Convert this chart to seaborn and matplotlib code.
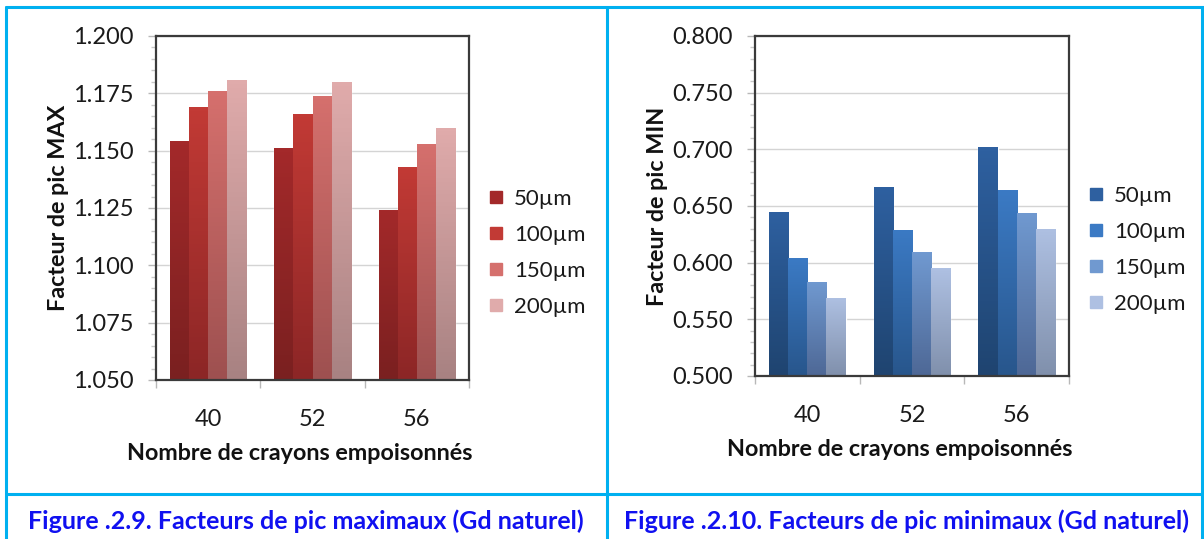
import numpy as np
import pandas as pd
import matplotlib
matplotlib.use("Agg")
import matplotlib.pyplot as plt
import seaborn as sns
from matplotlib.colors import to_rgba
from matplotlib.lines import Line2D
from matplotlib.ticker import MultipleLocator, FixedLocator

# data
rods = ["40", "52", "56"]
sizes = ["50µm", "100µm", "150µm", "200µm"]
pic_max = {
    "50µm": [1.154, 1.151, 1.124],
    "100µm": [1.169, 1.166, 1.143],
    "150µm": [1.176, 1.174, 1.153],
    "200µm": [1.181, 1.180, 1.160],
}
pic_min = {
    "50µm": [0.645, 0.667, 0.702],
    "100µm": [0.604, 0.629, 0.664],
    "150µm": [0.583, 0.609, 0.644],
    "200µm": [0.569, 0.595, 0.630],
}
captions = ["Figure .2.9. Facteurs de pic maximaux (Gd naturel)",
            "Figure .2.10. Facteurs de pic minimaux (Gd naturel)"]

# (top, bottom) colours of the vertical gradient
reds = [("#A3292A", "#7A2020"), ("#C23A35", "#8C2626"),
        ("#D5706D", "#9E5050"), ("#E0ABAB", "#A88282")]
blues = [("#2E60A0", "#1F4470"), ("#3B7AC4", "#28568C"),
         ("#7099D0", "#4E6896"), ("#AEC0E2", "#8090AC")]

sns.set_theme(style="white")
plt.rcParams['font.family'] = ['Lato', 'DejaVu Sans']

W, H = 1204, 539
fig = plt.figure(figsize=(W / 100, H / 100), dpi=100)


def px(x0, y0, x1, y1):
    return [x0 / W, 1 - y1 / H, (x1 - x0) / W, (y1 - y0) / H]


def tidy(d):
    rows = []
    for s in sizes:
        for r, v in zip(rods, d[s]):
            rows.append({"rods": r, "size": s, "val": v})
    return pd.DataFrame(rows)


def panel(rect, d, ylim, step, minor, ylabel, cols):
    ax = fig.add_axes(rect)
    df = tidy(d)
    sns.barplot(data=df, x="rods", y="val", hue="size", hue_order=sizes,
                width=0.73, palette=[c[0] for c in cols], ax=ax,
                legend=False, errorbar=None, saturation=1)
    ax.set_ylim(*ylim)
    ax.set_xlim(-0.5, 2.5)
    # gradient fill clipped to each bar
    for i, p in enumerate(ax.patches):
        top_c, bot_c = cols[i // len(rods)]
        x, w = p.get_x(), p.get_width()
        h = p.get_y() + p.get_height()
        t = np.linspace(0, 1, 64)[:, None]
        a = np.array(to_rgba(bot_c))
        b = np.array(to_rgba(top_c))
        img = (a + (b - a) * t)[:, None, :]
        im = ax.imshow(img, extent=(x, x + w, ylim[0], h), origin="lower",
                       aspect="auto", zorder=p.get_zorder() + 0.1)
        im.set_clip_path(p)
    ax.set_ylim(*ylim)
    ax.set_xlim(-0.5, 2.5)
    ax.set_aspect("auto")

    ax.yaxis.set_major_locator(MultipleLocator(step))
    ax.yaxis.set_minor_locator(MultipleLocator(minor))
    ax.yaxis.set_major_formatter(plt.FormatStrFormatter("%.3f"))
    ax.xaxis.set_minor_locator(FixedLocator([-0.5, 0.5, 1.5, 2.5]))
    ax.grid(axis="y", which="major", color="#D4D4D4", lw=1)
    ax.set_axisbelow(True)
    ax.tick_params(axis="y", which="major", length=6, color="#B8B8B8",
                   width=1, labelsize=17, labelcolor="#1A1A1A", pad=10, left=True)
    ax.tick_params(axis="y", which="minor", length=3.5, color="#C8C8C8",
                   width=1, left=True)
    ax.tick_params(axis="x", which="major", length=0, labelsize=17,
                   labelcolor="#1A1A1A", pad=21)
    ax.tick_params(axis="x", which="minor", length=6, color="#B8B8B8",
                   width=1, bottom=True)
    for s in ax.spines.values():
        s.set_color("#3A3A3A")
        s.set_linewidth(1.6)

    ax.set_xlabel("Nombre de crayons empoisonnés", fontsize=16.8,
                  fontweight="bold", color="#111111")
    ax.xaxis.set_label_coords(0.46, -0.215)
    ax.xaxis.label.set_va("center")
    ax.set_ylabel(ylabel, fontsize=16.8, fontweight="bold", color="#111111")
    ax.yaxis.set_label_coords(-0.31, 0.5)
    ax.yaxis.label.set_va("center")

    handles = [Line2D([], [], ls="none", marker="s", markersize=9,
                      markerfacecolor=c[0], markeredgecolor=c[0]) for c in cols]
    ax.legend(handles, sizes, loc="center left", bbox_to_anchor=(0.995, 0.37),
              frameon=False, fontsize=16, handlelength=0.8, handletextpad=0.4,
              labelspacing=0.72, labelcolor="#1A1A1A")
    return ax


panel(px(156, 36, 469, 380), pic_max, (1.05, 1.2), 0.025, 0.005,
      "Facteur de pic MAX", reds)
panel(px(755, 36, 1069, 376), pic_min, (0.5, 0.8), 0.05, 0.01,
      "Facteur de pic MIN", blues)

# table borders
bc = "#00B0F0"
lw = 2.2
fig.add_artist(Line2D([6 / W, 1], [1 - 7 / H, 1 - 7 / H], color=bc, lw=lw))
fig.add_artist(Line2D([6 / W, 6 / W], [0, 1 - 7 / H], color=bc, lw=lw))
fig.add_artist(Line2D([607 / W, 607 / W], [0, 1 - 7 / H], color=bc, lw=lw))
fig.add_artist(Line2D([1202 / W, 1202 / W], [0, 1 - 7 / H], color=bc, lw=lw))
fig.add_artist(Line2D([6 / W, 1], [1 - 494 / H, 1 - 494 / H], color=bc, lw=lw))

fig.text(306 / W, 1 - 521 / H, captions[0], ha="center", va="center",
         fontsize=18, fontweight="bold", color="#1010F0")
fig.text(907 / W, 1 - 521 / H, captions[1], ha="center", va="center",
         fontsize=18, fontweight="bold", color="#1010F0")

fig.savefig("out.png", dpi=100)
